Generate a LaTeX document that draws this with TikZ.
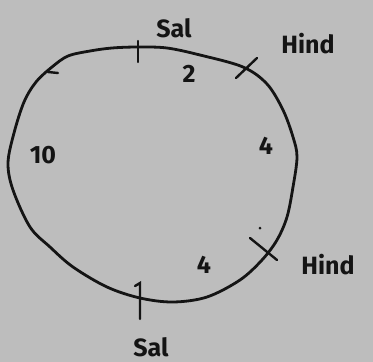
\documentclass[tikz,border=0pt]{standalone}
\usepackage{fontspec}
\setmainfont{Fira Sans}
\definecolor{paper}{HTML}{BDBDBD}
\definecolor{ink}{HTML}{141414}
\begin{document}
\begin{tikzpicture}[x=1pt,y=-1pt,
  pen/.style={draw=ink,line width=2.8pt,line cap=round,line join=round},
  thin pen/.style={draw=ink,line width=2.4pt,line cap=round},
  lbl/.style={text=ink,font=\fontsize{25}{25}\selectfont\bfseries,inner sep=0pt}]
\fill[paper] (0,0) rectangle (373,362);
\useasboundingbox (0,0) rectangle (373,362);
% loop
\draw[pen] plot[smooth cycle,tension=0.55] coordinates {
 (138,47) (167,48) (200,55) (243,67) (267,84) (283,110) (293,137) (297,157)
 (293,187) (287,217) (277,240) (262,260) (240,280) (207,297) (173,302)
 (140,298) (107,287) (73,267) (50,247) (30,227) (13,190) (8,163) (14,133)
 (24,102) (36,82) (52,67) (68,56) (90,51) (112,48)};
% tick coordinates
\coordinate (t1a) at (138,41); \coordinate (t1b) at (138,62);
\coordinate (t2a) at (236,78); \coordinate (t2b) at (257,58);
\coordinate (t3a) at (250,238); \coordinate (t3b) at (277,260);
\coordinate (t4h) at (135,286); \coordinate (t4a) at (140,283); \coordinate (t4b) at (140,319);
\coordinate (t5a) at (48,72); \coordinate (t5b) at (58,73);
\draw[thin pen] (t1a) -- (t1b);
\draw[thin pen] (t2a) -- (t2b);
\draw[thin pen] (t3a) -- (t3b);
\draw[thin pen] (t4h) -- (t4a) -- (t4b);
\draw[thin pen] (t5a) -- (t5b);
\fill[ink] (260,228) circle (1.5pt);
% labels
\node[lbl] (sal1) at (174,28) {Sal};
\node[lbl] (hind1) at (308,44) {Hind};
\node[lbl] (two) at (189,74) {2};
\node[lbl] (four1) at (266,146) {4};
\node[lbl] (ten) at (43,155) {10};
\node[lbl] (four2) at (204,265) {4};
\node[lbl] (hind2) at (328,265) {Hind};
\node[lbl] (sal2) at (151,347) {Sal};
\end{tikzpicture}
\end{document}
